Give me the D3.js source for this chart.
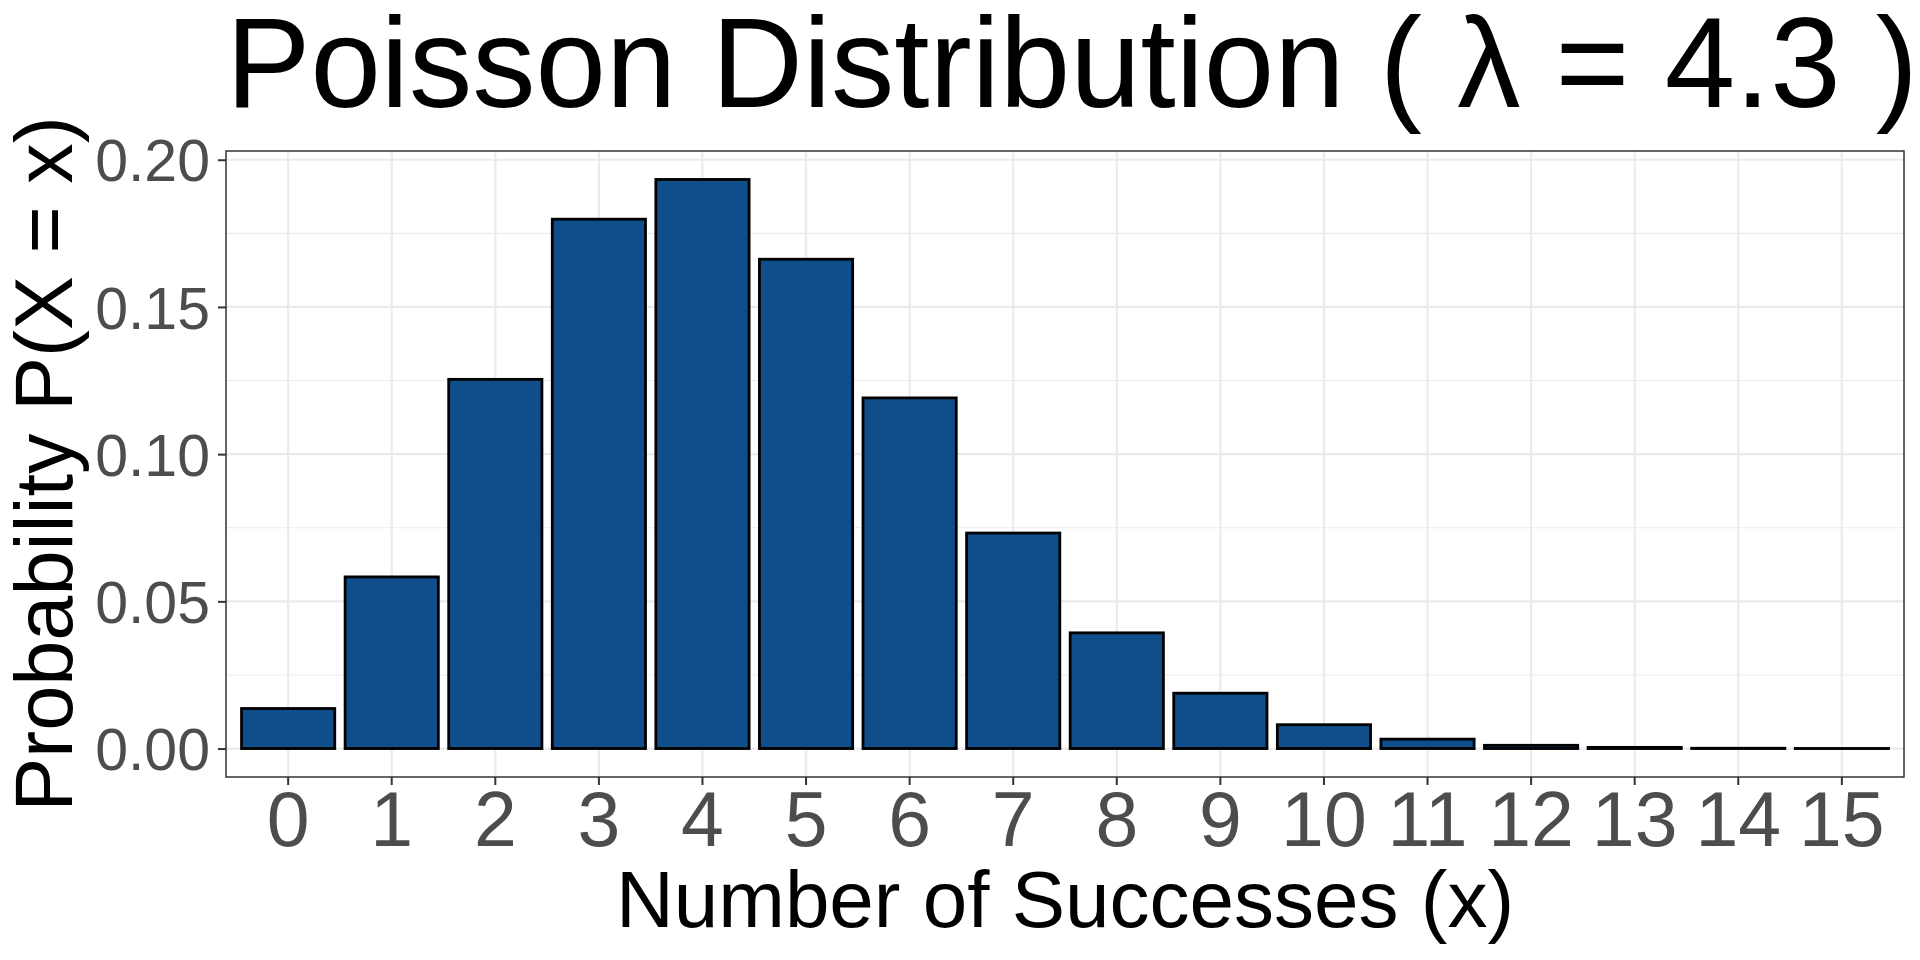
<!DOCTYPE html>
<meta charset="utf-8">
<style>

body { margin: 0; background: #fff; }
text { font-family: "Liberation Sans", Arial, sans-serif; }

</style>
<svg width="1920" height="960"></svg>
<script src="https://cdn.jsdelivr.net/npm/d3@7"></script>
<script>

// values
var successes = ["0", "1", "2", "3", "4", "5", "6", "7", "8", "9", "10", "11", "12", "13", "14", "15"];
var probability = [0.0136, 0.0583, 0.1254, 0.1798, 0.1933, 0.1662, 0.1191, 0.0732,
                   0.0393, 0.0188, 0.0081, 0.0032, 0.0011, 0.0004, 0.0001, 0.00003];
var yTicks = [0, 0.05, 0.10, 0.15, 0.20];
var yMinor = [0.025, 0.075, 0.125, 0.175];

var svg = d3.select("svg");

var margin = {top: 151, right: 16, bottom: 183, left: 226},
    width = 1920 - margin.left - margin.right,
    height = 960 - margin.top - margin.bottom;

svg.append("rect").attr("width", 1920).attr("height", 960).attr("fill", "#fff");

var g = svg.append("g").attr("transform", "translate(" + margin.left + "," + margin.top + ")");

var x = d3.scaleBand()
    .domain(successes)
    .range([0, width])
    .paddingInner(0.1)
    .paddingOuter(0.15);

var ymax = d3.max(probability);
var y = d3.scaleLinear()
    .domain([-ymax * 0.05, ymax * 1.05])
    .range([height, 0]);

// grid
g.selectAll(".minor")
    .data(yMinor)
  .enter().append("line")
    .attr("x1", 0).attr("x2", width)
    .attr("y1", y).attr("y2", y)
    .attr("stroke", "#ebebeb").attr("stroke-width", 1.1);

g.selectAll(".hmajor")
    .data(yTicks)
  .enter().append("line")
    .attr("x1", 0).attr("x2", width)
    .attr("y1", y).attr("y2", y)
    .attr("stroke", "#ebebeb").attr("stroke-width", 2.2);

g.selectAll(".vmajor")
    .data(successes)
  .enter().append("line")
    .attr("x1", function(d) { return x(d) + x.bandwidth() / 2; })
    .attr("x2", function(d) { return x(d) + x.bandwidth() / 2; })
    .attr("y1", 0).attr("y2", height)
    .attr("stroke", "#ebebeb").attr("stroke-width", 2.2);

// bars
g.selectAll(".bar")
    .data(probability)
  .enter().append("rect")
    .attr("x", function(d, i) { return x(successes[i]); })
    .attr("width", x.bandwidth())
    .attr("y", function(d) { return y(d); })
    .attr("height", function(d) { return y(0) - y(d); })
    .attr("fill", "#104e8b")
    .attr("stroke", "#000")
    .attr("stroke-width", 2.8);

// panel border
g.append("rect")
    .attr("width", width).attr("height", height)
    .attr("fill", "none")
    .attr("stroke", "#333").attr("stroke-width", 1.5);

// axes
var yAxis = g.append("g")
    .call(d3.axisLeft(y).tickValues(yTicks).tickFormat(d3.format(".2f")).tickSize(8).tickPadding(8));

yAxis.select(".domain").remove();
yAxis.selectAll(".tick line").attr("stroke", "#333").attr("stroke-width", 2);
yAxis.selectAll(".tick text")
    .attr("fill", "#4d4d4d")
    .style("font-size", "59px")
    .attr("dy", "0.36em");

var xAxis = g.append("g")
    .attr("transform", "translate(0," + height + ")")
    .call(d3.axisBottom(x).tickSize(8).tickPadding(6));

xAxis.select(".domain").remove();
xAxis.selectAll(".tick line").attr("stroke", "#333").attr("stroke-width", 2);
xAxis.selectAll(".tick text")
    .attr("fill", "#4d4d4d")
    .style("font-size", "77px")
    .attr("dy", "0.71em");

// titles
svg.append("text")
    .attr("x", 226)
    .attr("y", 107)
    .attr("textLength", 1692)
    .attr("lengthAdjust", "spacingAndGlyphs")
    .style("font-size", "128px")
    .attr("fill", "#000")
    .text("Poisson Distribution ( \u03bb = 4.3 )");

svg.append("text")
    .attr("x", margin.left + width / 2)
    .attr("y", 927)
    .attr("text-anchor", "middle")
    .style("font-size", "80px")
    .attr("fill", "#000")
    .text("Number of Successes (x)");

svg.append("text")
    .attr("transform", "translate(72," + (margin.top + height / 2) + ") rotate(-90)")
    .attr("text-anchor", "middle")
    .style("font-size", "81px")
    .attr("fill", "#000")
    .text("Probability P(X = x)");

</script>
